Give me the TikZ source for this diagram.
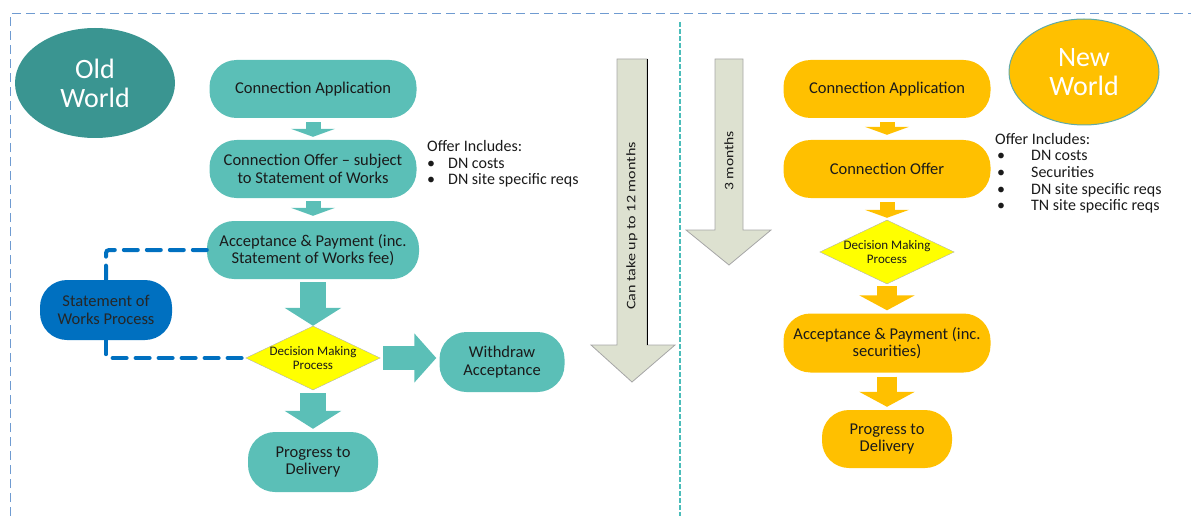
\documentclass[tikz,border=0pt]{standalone}
\usepackage{fontspec}
\setmainfont{Carlito}
\usetikzlibrary{shapes.geometric,arrows.meta}
\definecolor{teall}{HTML}{5BBFB7}
\definecolor{teald}{HTML}{3A9591}
\definecolor{sowblue}{HTML}{0070C0}
\definecolor{orng}{HTML}{FFC000}
\definecolor{ylw}{HTML}{FFFF00}
\definecolor{grayfill}{HTML}{DDE1D0}
\definecolor{txt}{HTML}{1A1A1A}
\definecolor{borderblue}{HTML}{6F9BD1}
\definecolor{divteal}{HTML}{4BBDBA}
\begin{document}
\begin{tikzpicture}[x=1pt,y=-1pt,
  box/.style={rectangle, rounded corners=27pt, minimum height=58pt, align=center,
    font=\fontsize{16.5}{17.5}\selectfont, text=txt, inner sep=2pt},
  oldbox/.style={box, fill=teall},
  newbox/.style={box, fill=orng},
  dec/.style={diamond, aspect=2.1, fill=ylw, draw=gray!60, minimum width=130pt,
    minimum height=60pt, inner sep=0pt, align=center, font=\fontsize{13}{13.5}\selectfont, text=txt},
  smallarr/.style={line width=15pt, -{Triangle[width=44pt,length=8pt]}},
  midarr/.style={line width=20pt, -{Triangle[width=55pt,length=15pt]}},
  bigarr/.style={line width=26pt, -{Triangle[width=56pt,length=18pt]}},
  sidearr/.style={line width=24pt, -{Triangle[width=48pt,length=22pt]}},
  dashblue/.style={sowblue, line width=4pt, dash pattern=on 14pt off 9pt, line cap=round, rounded corners=3pt},
  note/.style={font=\fontsize{16}{17}\selectfont, text=txt, anchor=west, align=left, inner sep=0pt},
  garrow/.style={fill=grayfill, draw=gray!70, line width=0.8pt},
  gtext/.style={rotate=90, font=\fontsize{13}{15}\selectfont, text=txt},
  world/.style={ellipse, font=\fontsize{28}{29}\selectfont, text=white, align=center}
]
\useasboundingbox (0,0) rectangle (1191,516);
% outer border and divider
\draw[borderblue, line width=1pt, dash pattern=on 9pt off 5pt] (10,516) -- (10,14) -- (1191,14);
\draw[divteal, line width=2.5pt, dash pattern=on 5pt off 2pt] (680,22) -- (680,516);

% ---- Old world ----
\node[world, fill=teald, minimum width=160pt, minimum height=110pt] (ow) at (95,83) {Old\\World};
\node[oldbox, minimum width=207pt] (ca) at (313,89) {Connection Application};
\node[oldbox, minimum width=207pt] (co) at (313,169) {Connection Offer -- subject\\to Statement of Works};
\node[oldbox, minimum width=212pt] (ap) at (313,250) {Acceptance \& Payment (inc.\\Statement of Works fee)};
\node[box, fill=sowblue, minimum width=132pt, minimum height=60pt, text=black!85] (sw) at (106,310) {Statement of\\Works Process};
\node[dec] (dm) at (313,358) {Decision Making\\Process};
\node[oldbox, minimum width=125pt, minimum height=60pt] (wd) at (502,362) {Withdraw\\Acceptance};
\node[oldbox, minimum width=130pt, minimum height=60pt] (pd) at (313,462) {Progress to\\Delivery};

\draw[smallarr, teall, shorten <=4pt, shorten >=3pt] (ca) -- (co);
\draw[smallarr, teall, shorten <=3pt, shorten >=5pt] (co) -- (ap);
\draw[bigarr, teall, shorten <=3pt] (ap) -- (dm);
\draw[bigarr, teall, shorten <=3pt, shorten >=3pt] (dm) -- (pd);
\draw[sidearr, teall, shorten <=3pt, shorten >=3pt] (dm.east) -- (wd.west |- dm.east);
\draw[dashblue] (ap.west) -| (sw.north);
\draw[dashblue] (sw.south) |- (dm.west);

\node[note] (n1) at (427,146) {Offer Includes:};
\node[note] (n1a) at (427,163) {\textbullet\hspace{13pt}DN costs};
\node[note] (n1b) at (427,180) {\textbullet\hspace{13pt}DN site specific reqs};

% ---- Duration arrows ----
\path[garrow] (617,59) -- (647,59) -- (647,345) -- (675,345) -- (632,382) -- (591,345) -- (617,345) -- cycle;
\draw[black, line width=1pt] (647,59) -- (647,345);
\node[gtext] (t12) at (632,226) {\scalebox{1.24}[1]{Can take up to 12 months}};
\path[garrow] (715,59) -- (743,59) -- (743,230) -- (771,230) -- (729,265) -- (686,230) -- (715,230) -- cycle;
\node[gtext] (t3) at (729,161) {\scalebox{1.2}[1]{3 months}};

% ---- New world ----
\node[world, fill=orng, draw=teald!80, line width=1pt, minimum width=150pt, minimum height=106pt] (nw) at (1084,72) {New\\World};
\node[newbox, minimum width=207pt] (nca) at (887,89) {Connection Application};
\node[newbox, minimum width=207pt] (nco) at (887,169) {Connection Offer};
\node[dec, minimum width=130pt, minimum height=62pt] (ndm) at (887,252) {Decision Making\\Process};
\node[newbox, minimum width=207pt, minimum height=59pt] (nap) at (887,343) {Acceptance \& Payment (inc.\\securities)};
\node[newbox, minimum width=130pt, minimum height=58pt] (npd) at (887,439) {Progress to\\Delivery};

\draw[smallarr, orng, shorten <=4pt, shorten >=5pt] (nca) -- (nco);
\draw[smallarr, orng, shorten <=4pt, shorten >=2pt] (nco) -- (ndm);
\draw[midarr, orng, shorten <=2pt, shorten >=3pt] (ndm) -- (nap);
\draw[midarr, orng, shorten <=4pt, shorten >=3pt] (nap) -- (npd);

\node[note] (n2) at (995,139) {Offer Includes:};
\node[note] (n2a) at (997,155) {\textbullet\hspace{26pt}DN costs};
\node[note] (n2b) at (997,172) {\textbullet\hspace{26pt}Securities};
\node[note] (n2c) at (997,190) {\textbullet\hspace{26pt}DN site specific reqs};
\node[note] (n2d) at (997,206) {\textbullet\hspace{26pt}TN site specific reqs};
\end{tikzpicture}
\end{document}
